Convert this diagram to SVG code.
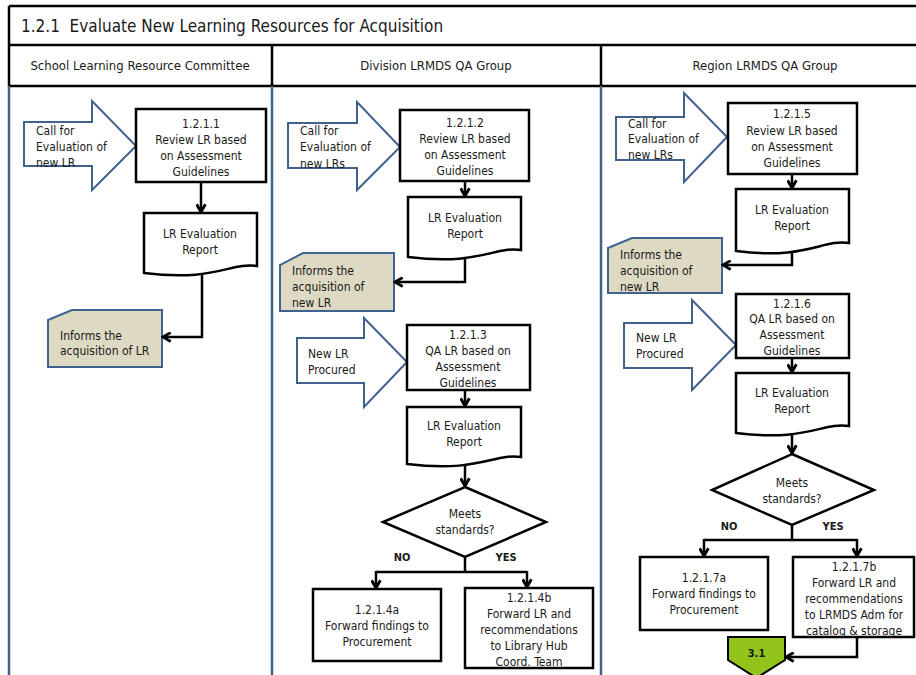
<svg xmlns="http://www.w3.org/2000/svg" width="916" height="675" viewBox="0 0 916 675">
  <style>
    text { font-family: "DejaVu Sans Condensed", "DejaVu Sans", "Liberation Sans", sans-serif; font-stretch: condensed; fill: #1a1a1a; }
    .title { font-size: 17px; white-space: pre; }
    .lane { font-size: 13px; text-anchor: middle; }
    .t { font-size: 12px; }
    .c { text-anchor: middle; }
    .b { font-weight: bold; font-size: 11px; text-anchor: middle; }
    .frame { stroke: #000; stroke-width: 2.5; fill: none; }
    .laneline { stroke: #41628f; stroke-width: 2.5; }
    .box { fill: #fff; stroke: #000; stroke-width: 2.5; }
    .barrow { fill: #fff; stroke: #41628f; stroke-width: 2; stroke-linejoin: miter; }
    .note { fill: #ddd9c3; stroke: #41628f; stroke-width: 2; }
    .off { fill: #92c41c; stroke: #000; stroke-width: 2; }
    .conn { fill: none; stroke: #000; stroke-width: 2.5; marker-end: url(#ah); }
    .line { fill: none; stroke: #000; stroke-width: 2.5; }
  </style>
  <defs>
    <marker id="ah" viewBox="0 0 10 10" refX="8.5" refY="5" markerWidth="11" markerHeight="11" markerUnits="userSpaceOnUse" orient="auto">
      <path d="M1.5,1 L8.5,5 L1.5,9" fill="none" stroke="#000" stroke-width="2.6"/>
    </marker>
  </defs>

  <rect width="916" height="675" fill="#fff"/>

  <!-- pool frame, title and lane headers -->
  <g id="frame">
    <path class="frame" d="M9,6 H916 M9,45 H916 M9,86 H916 M9,6 V86 M272,45 V86 M601,45 V86"/>
    <line class="laneline" x1="9" y1="86" x2="9" y2="675"/>
    <line class="laneline" x1="272" y1="86" x2="272" y2="675"/>
    <line class="laneline" x1="601" y1="86" x2="601" y2="675"/>
    <text class="title" x="21" y="32" xml:space="preserve">1.2.1  Evaluate New Learning Resources for Acquisition</text>
    <text class="lane" x="140" y="70">School Learning Resource Committee</text>
    <text class="lane" x="436" y="70">Division LRMDS QA Group</text>
    <text class="lane" x="765" y="70">Region LRMDS QA Group</text>
  </g>

  <!-- School lane -->
  <g id="in-call-school">
    <path class="barrow" d="M24,122 H92 V101 L136,146 L92,190 V166 H24 Z"/>
    <text class="t" x="36" y="135">Call for</text>
    <text class="t" x="36" y="151">Evaluation of</text>
    <text class="t" x="36" y="167">new LR</text>
  </g>
  <g id="task-1211">
    <rect class="box" x="136" y="109" width="130" height="73"/>
    <text class="t c" x="201" y="127.5">1.2.1.1</text>
    <text class="t c" x="201" y="143.5">Review LR based</text>
    <text class="t c" x="201" y="159.5">on Assessment</text>
    <text class="t c" x="201" y="175.5">Guidelines</text>
  </g>
  <g id="doc-school">
    <path class="box" d="M144,213 H257 V266 C230,262 215,282 144,273 Z"/>
    <text class="t c" x="200" y="237.5">LR Evaluation</text>
    <text class="t c" x="200" y="253.5">Report</text>
  </g>
  <g id="note-school">
    <path class="note" d="M72,310 H162 V367 H48 V320 Z"/>
    <text class="t" x="60" y="339.5">Informs the</text>
    <text class="t" x="60" y="355">acquisition of LR</text>
  </g>

  <!-- Division lane -->
  <g id="in-call-division">
    <path class="barrow" d="M288,123 H357 V102 L400,147 L357,190 V168 H288 Z"/>
    <text class="t" x="300" y="134.5">Call for</text>
    <text class="t" x="300" y="151">Evaluation of</text>
    <text class="t" x="300" y="167.5">new LRs</text>
  </g>
  <g id="task-1212">
    <rect class="box" x="400" y="110" width="129" height="71"/>
    <text class="t c" x="465" y="126.5">1.2.1.2</text>
    <text class="t c" x="465" y="142.5">Review LR based</text>
    <text class="t c" x="465" y="158.5">on Assessment</text>
    <text class="t c" x="465" y="174.5">Guidelines</text>
  </g>
  <g id="doc-division-1">
    <path class="box" d="M408,197 H521 V250 C494,246 479,266 408,257 Z"/>
    <text class="t c" x="465" y="221.5">LR Evaluation</text>
    <text class="t c" x="465" y="237.5">Report</text>
  </g>
  <g id="note-division">
    <path class="note" d="M303,253 H394 V311 H280 V265 Z"/>
    <text class="t" x="292" y="274.5">Informs the</text>
    <text class="t" x="292" y="290.5">acquisition of</text>
    <text class="t" x="292" y="306.5">new LR</text>
  </g>
  <g id="in-procured-division">
    <path class="barrow" d="M297,338 H364 V318 L407,362 L364,407 V383 H297 Z"/>
    <text class="t" x="308" y="357.5">New LR</text>
    <text class="t" x="308" y="373.5">Procured</text>
  </g>
  <g id="task-1213">
    <rect class="box" x="407" y="325" width="123" height="65"/>
    <text class="t c" x="468" y="338.5">1.2.1.3</text>
    <text class="t c" x="468" y="354.5">QA LR based on</text>
    <text class="t c" x="468" y="370.5">Assessment</text>
    <text class="t c" x="468" y="386.5">Guidelines</text>
  </g>
  <g id="doc-division-2">
    <path class="box" d="M407,407 H521 V457 C494,453 479,473 407,464 Z"/>
    <text class="t c" x="464" y="429.5">LR Evaluation</text>
    <text class="t c" x="464" y="445.5">Report</text>
  </g>
  <g id="dec-division">
    <path class="box" d="M465,487 L546,522 L465,557 L383,522 Z"/>
    <text class="t c" x="465" y="517.5">Meets</text>
    <text class="t c" x="465" y="533.5">standards?</text>
  </g>
  <g id="task-1214a">
    <rect class="box" x="313" y="589" width="128" height="72"/>
    <text class="t c" x="377" y="613.5">1.2.1.4a</text>
    <text class="t c" x="377" y="629.5">Forward findings to</text>
    <text class="t c" x="377" y="645.5">Procurement</text>
  </g>
  <g id="task-1214b">
    <rect class="box" x="465" y="588" width="128" height="80"/>
    <text class="t c" x="529" y="601.5">1.2.1.4b</text>
    <text class="t c" x="529" y="617.5">Forward LR and</text>
    <text class="t c" x="529" y="633.5">recommendations</text>
    <text class="t c" x="529" y="649.5">to Library Hub</text>
    <text class="t c" x="529" y="665.5">Coord. Team</text>
  </g>

  <!-- Region lane -->
  <g id="in-call-region">
    <path class="barrow" d="M616,117 H684 V93 L727,137 L684,182 V160 H616 Z"/>
    <text class="t" x="628" y="127.5">Call for</text>
    <text class="t" x="628" y="143">Evaluation of</text>
    <text class="t" x="628" y="159">new LRs</text>
  </g>
  <g id="task-1215">
    <rect class="box" x="728" y="103" width="129" height="71"/>
    <text class="t c" x="792" y="118">1.2.1.5</text>
    <text class="t c" x="792" y="134.5">Review LR based</text>
    <text class="t c" x="792" y="150.5">on Assessment</text>
    <text class="t c" x="792" y="166.5">Guidelines</text>
  </g>
  <g id="doc-region-1">
    <path class="box" d="M736,189 H849 V243 C822,239 807,260 736,251 Z"/>
    <text class="t c" x="792" y="213.5">LR Evaluation</text>
    <text class="t c" x="792" y="229.5">Report</text>
  </g>
  <g id="note-region">
    <path class="note" d="M632,238 H722 V293 H608 V248 Z"/>
    <text class="t" x="620" y="258.5">Informs the</text>
    <text class="t" x="620" y="274.5">acquisition of</text>
    <text class="t" x="620" y="290.5">new LR</text>
  </g>
  <g id="in-procured-region">
    <path class="barrow" d="M624,323 H692 V300 L736,345 L692,390 V368 H624 Z"/>
    <text class="t" x="636" y="341.5">New LR</text>
    <text class="t" x="636" y="357.5">Procured</text>
  </g>
  <g id="task-1216">
    <rect class="box" x="736" y="294" width="113" height="64"/>
    <text class="t c" x="792" y="307.5">1.2.1.6</text>
    <text class="t c" x="792" y="323">QA LR based on</text>
    <text class="t c" x="792" y="339">Assessment</text>
    <text class="t c" x="792" y="355">Guidelines</text>
  </g>
  <g id="doc-region-2">
    <path class="box" d="M736,373 H849 V426 C822,422 807,442 736,433 Z"/>
    <text class="t c" x="792" y="396.5">LR Evaluation</text>
    <text class="t c" x="792" y="412.5">Report</text>
  </g>
  <g id="dec-region">
    <path class="box" d="M792,454 L874,490 L792,525 L712,490 Z"/>
    <text class="t c" x="792" y="486.5">Meets</text>
    <text class="t c" x="792" y="502.5">standards?</text>
  </g>
  <g id="task-1217a">
    <rect class="box" x="640" y="557" width="128" height="73"/>
    <text class="t c" x="704" y="581.5">1.2.1.7a</text>
    <text class="t c" x="704" y="597.5">Forward findings to</text>
    <text class="t c" x="704" y="613.5">Procurement</text>
  </g>
  <g id="task-1217b">
    <rect class="box" x="793" y="557" width="121" height="80"/>
    <text class="t c" x="854" y="570.5">1.2.1.7b</text>
    <text class="t c" x="854" y="586.5">Forward LR and</text>
    <text class="t c" x="854" y="602.5">recommendations</text>
    <text class="t c" x="854" y="618.5">to LRMDS Adm for</text>
    <text class="t c" x="854" y="634.5">catalog &amp; storage</text>
  </g>
  <g id="offpage-31">
    <path class="off" d="M728,637 H785 V660 L756.5,678 L728,660 Z"/>
    <text class="b" x="756.5" y="657">3.1</text>
  </g>

  <!-- connectors -->
  <g id="connectors">
    <path class="conn" d="M201,182 V212"/>
    <path class="conn" d="M202,274 V337 H163"/>
    <path class="conn" d="M465,181 V196"/>
    <path class="conn" d="M465,258 V282 H395"/>
    <path class="conn" d="M465,390 V406"/>
    <path class="conn" d="M465,466 V486"/>
    <path class="line" d="M465,557 V572 M376,572 H527"/>
    <path class="conn" d="M376,571 V588"/>
    <path class="conn" d="M527,571 V587"/>
    <text class="b" x="402" y="561">NO</text>
    <text class="b" x="506" y="561">YES</text>
    <path class="conn" d="M792,174 V188"/>
    <path class="conn" d="M792,252 V265 H723"/>
    <path class="conn" d="M792,358 V372"/>
    <path class="conn" d="M792,434 V453"/>
    <path class="line" d="M792,525 V540 M704,540 H857"/>
    <path class="conn" d="M704,539 V556"/>
    <path class="conn" d="M857,539 V556"/>
    <text class="b" x="729" y="530">NO</text>
    <text class="b" x="833" y="530">YES</text>
    <path class="conn" d="M857,637 V657 H786"/>
  </g>
</svg>
